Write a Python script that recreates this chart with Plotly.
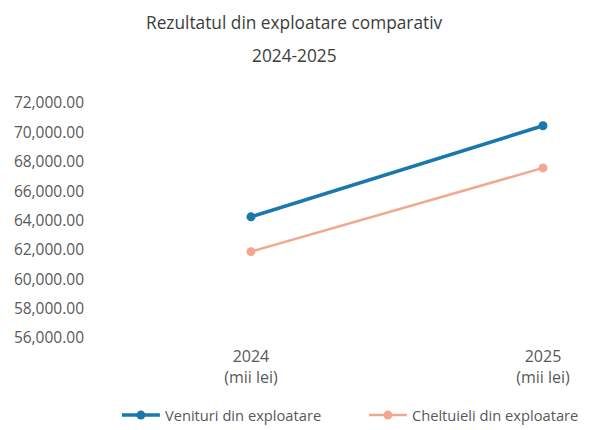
import plotly.graph_objects as go

categories = ["2024<br>(mii lei)", "2025<br>(mii lei)"]
venituri = [64250, 70450]
cheltuieli = [61880, 67580]
series_names = ["Venituri din exploatare", "Cheltuieli din exploatare"]
title_lines = ["Rezultatul din exploatare comparativ", "2024-2025"]
y_ticks = [56000, 58000, 60000, 62000, 64000, 66000, 68000, 70000, 72000]
y_tick_labels = [f"{v:,.2f}" for v in y_ticks]

FONT = "Open Sans"

fig = go.Figure()
fig.add_trace(go.Scatter(
    x=[0, 1], y=venituri, name=series_names[0], mode="lines+markers",
    line=dict(color="#1a78ad", width=3.5),
    marker=dict(color="#1a78ad", size=9),
))
fig.add_trace(go.Scatter(
    x=[0, 1], y=cheltuieli, name=series_names[1], mode="lines+markers",
    line=dict(color="#f2a88e", width=2.5),
    marker=dict(color="#f2a88e", size=9),
))

for yv, txt in zip([1.343, 1.203], title_lines):
    fig.add_annotation(
        text=txt, xref="paper", yref="paper", x=0.392, y=yv,
        xanchor="center", yanchor="middle", showarrow=False,
        font=dict(family=FONT, size=17.3, color="#3d3d3d"),
    )

fig.update_layout(
    width=589, height=430,
    paper_bgcolor="white", plot_bgcolor="white",
    margin=dict(l=92, r=0, t=95, b=100, autoexpand=False),
    font=dict(family=FONT, color="#595959", size=13),
    showlegend=True,
    legend=dict(
        orientation="h", x=0.034, xanchor="left",
        y=-0.33, yanchor="middle",
        font=dict(family=FONT, size=14.7, color="#595959"),
        entrywidth=194, itemwidth=38,
    ),
)
fig.update_xaxes(
    range=[-0.517, 1.185], tickmode="array", tickvals=[0, 1], ticktext=categories,
    showgrid=False, zeroline=False, showline=False, ticks="",
    ticklabelstandoff=7,
    tickfont=dict(family=FONT, size=16, color="#595959"),
)
fig.update_yaxes(
    range=[56000, 72000], tickmode="array", tickvals=y_ticks, ticktext=y_tick_labels,
    showgrid=False, zeroline=False, showline=False, ticks="",
    ticklabelstandoff=15,
    tickfont=dict(family=FONT, size=15.5, color="#595959"),
)

fig.write_html("out.html")
